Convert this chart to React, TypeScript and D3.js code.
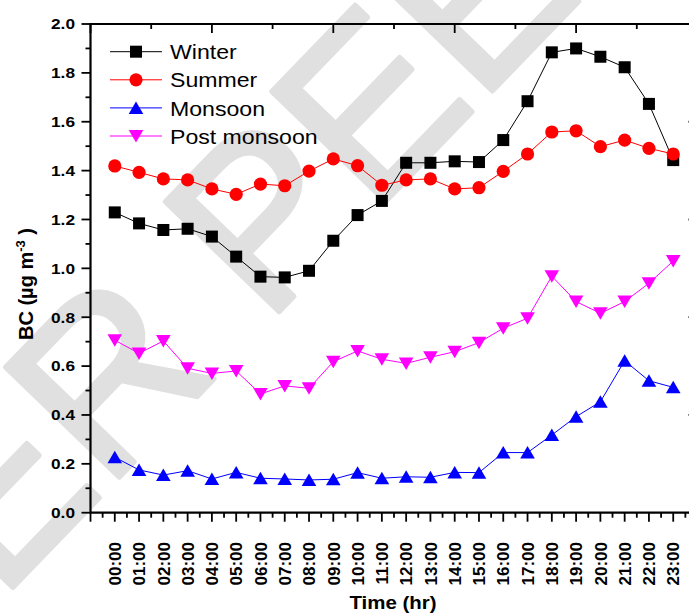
import React from "react";
import * as d3 from "d3";

const timeLabels = [
  "00:00", "01:00", "02:00", "03:00", "04:00", "05:00", "06:00", "07:00",
  "08:00", "09:00", "10:00", "11:00", "12:00", "13:00", "14:00", "15:00",
  "16:00", "17:00", "18:00", "19:00", "20:00", "21:00", "22:00", "23:00",
];
const hourValues = [
  0, 1, 2, 3, 4, 5, 6, 7, 8, 9, 10, 11, 12, 13, 14, 15, 16, 17, 18, 19, 20, 21, 22, 23,
];

const winter = [
  1.229, 1.184, 1.157, 1.162, 1.13, 1.048, 0.966, 0.963, 0.99, 1.113, 1.218, 1.276,
  1.432, 1.432, 1.438, 1.435, 1.525, 1.684, 1.884, 1.9, 1.866, 1.823, 1.673, 1.443,
];
const summer = [
  1.419, 1.393, 1.366, 1.362, 1.325, 1.303, 1.345, 1.338, 1.398, 1.448, 1.42, 1.34,
  1.362, 1.366, 1.325, 1.33, 1.397, 1.468, 1.558, 1.563, 1.498, 1.525, 1.491, 1.468,
];
const monsoon = [
  0.227, 0.175, 0.154, 0.172, 0.138, 0.165, 0.141, 0.138, 0.134, 0.137, 0.164, 0.141,
  0.147, 0.145, 0.165, 0.164, 0.246, 0.246, 0.318, 0.393, 0.454, 0.622, 0.54, 0.513,
];
const postMonsoon = [
  0.706, 0.652, 0.703, 0.591, 0.57, 0.58, 0.486, 0.519, 0.509, 0.618, 0.662, 0.628,
  0.611, 0.636, 0.659, 0.696, 0.755, 0.796, 0.968, 0.864, 0.816, 0.864, 0.939, 1.03,
];

const seriesNames = ["Winter", "Summer", "Monsoon", "Post monsoon"];
const seriesColors = ["#000000", "#FF0000", "#0000FF", "#FF00FF"];
const seriesShapes = ["square", "circle", "up", "down"];
const seriesData = [winter, summer, monsoon, postMonsoon];

const yTickValues = [0, 0.2, 0.4, 0.6, 0.8, 1.0, 1.2, 1.4, 1.6, 1.8, 2.0];
const watermarkText = "DER PEER RE";

const W = 689;
const H = 616;

function Marker({ shape, cx, cy, color }: { shape: string; cx: number; cy: number; color: string }) {
  if (shape === "square") {
    return <rect x={cx - 6} y={cy - 6} width={12} height={12} fill={color} />;
  }
  if (shape === "circle") {
    return <circle cx={cx} cy={cy} r={6.6} fill={color} />;
  }
  if (shape === "up") {
    return <path d={`M${cx},${cy - 6.5}L${cx + 7.3},${cy + 6}L${cx - 7.3},${cy + 6}Z`} fill={color} />;
  }
  return <path d={`M${cx},${cy + 6.5}L${cx + 7.3},${cy - 6}L${cx - 7.3},${cy - 6}Z`} fill={color} />;
}

export default function App() {
  const x = d3.scaleLinear().domain([-1, 24]).range([90.5, 697.5]);
  const y = d3.scaleLinear().domain([0, 2]).range([512.7, 24]);
  const x0 = x(-1);
  const x1 = x(24);
  const y0 = y(0);
  const y1 = y(2);

  const bottomMajor = d3.range(-1, 24.001, 1);
  const bottomMinor = d3.range(-0.5, 24, 1);
  const topMajor = d3.range(-1, 24.001, 5);
  const topMinor = d3.range(1.5, 24, 5);
  const leftMajor = d3.range(0, 2.001, 0.2);
  const leftMinor = d3.range(0.1, 2, 0.2);
  const rightMajor = d3.range(0, 2.001, 0.4);
  const rightMinor = d3.range(0.2, 2, 0.4);

  const line = d3
    .line<number>()
    .x((_, i) => x(hourValues[i]))
    .y((d) => y(d));

  const legendY0 = 51.7;
  const legendStep = 28.1;

  return (
    <svg
      width={W}
      height={H}
      style={{ position: "absolute", left: 0, top: 0, background: "#fff" }}
      fontFamily="'Liberation Sans', Arial, sans-serif"
    >
      <rect x={0} y={0} width={W} height={H} fill="#fff" />
      {/* watermark */}
      <text
        transform="translate(262,215) rotate(-46)"
        x={-626}
        textAnchor="start"
        fontSize={230}
        fill="#e0e0e0"
        stroke="#e0e0e0"
        strokeWidth={5}
        strokeLinejoin="round"
        dominantBaseline="central"
      >
        {watermarkText}
      </text>

      {/* series */}
      {seriesData.map((data, si) => (
        <g key={seriesNames[si]}>
          <path d={line(data) || ""} fill="none" stroke={seriesColors[si]} strokeWidth={1} />
          {data.map((v, i) => (
            <Marker key={i} shape={seriesShapes[si]} cx={x(hourValues[i])} cy={y(v)} color={seriesColors[si]} />
          ))}
        </g>
      ))}

      {/* axes frame */}
      <g stroke="#000" fill="none">
        <line x1={x0} y1={y0} x2={x1} y2={y0} strokeWidth={2.2} />
        <line x1={x0} y1={y1} x2={x1} y2={y1} strokeWidth={2.2} />
        <line x1={x0} y1={y0 + 1} x2={x0} y2={y1 - 1} strokeWidth={2.2} />
        <line x1={x1} y1={y0} x2={x1} y2={y1} strokeWidth={2.2} />
        {bottomMajor.map((t) => (
          <line key={"bM" + t} x1={x(t)} x2={x(t)} y1={y0} y2={y0 + 9} strokeWidth={1.8} />
        ))}
        {bottomMinor.map((t) => (
          <line key={"bm" + t} x1={x(t)} x2={x(t)} y1={y0} y2={y0 + 5} strokeWidth={1.8} />
        ))}
        {topMajor.map((t) => (
          <line key={"tM" + t} x1={x(t)} x2={x(t)} y1={y1} y2={y1 + 9} strokeWidth={1.8} />
        ))}
        {topMinor.map((t) => (
          <line key={"tm" + t} x1={x(t)} x2={x(t)} y1={y1} y2={y1 + 5} strokeWidth={1.8} />
        ))}
        {leftMajor.map((t) => (
          <line key={"lM" + t} x1={x0 - 9} x2={x0} y1={y(t)} y2={y(t)} strokeWidth={1.8} />
        ))}
        {leftMinor.map((t) => (
          <line key={"lm" + t} x1={x0 - 5} x2={x0} y1={y(t)} y2={y(t)} strokeWidth={1.8} />
        ))}
        {rightMajor.map((t) => (
          <line key={"rM" + t} x1={x1 - 9} x2={x1} y1={y(t)} y2={y(t)} strokeWidth={1.8} />
        ))}
        {rightMinor.map((t) => (
          <line key={"rm" + t} x1={x1 - 5} x2={x1} y1={y(t)} y2={y(t)} strokeWidth={1.8} />
        ))}
      </g>

      {/* y tick labels */}
      {yTickValues.map((v) => (
        <text
          key={"yl" + v}
          transform={`translate(75,${y(v) + 5.4}) scale(1.15,1)`}
          textAnchor="end"
          fontSize={15}
          fontWeight="bold"
          fill="#000"
        >
          {v.toFixed(1)}
        </text>
      ))}

      {/* x tick labels */}
      {timeLabels.map((lab, i) => (
        <text
          key={lab}
          transform={`translate(${x(hourValues[i]) + 6.2},542) rotate(-90)`}
          textAnchor="end"
          fontSize={17}
          fontWeight="bold"
          fill="#000"
        >
          {lab}
        </text>
      ))}

      {/* axis titles */}
      <text
        transform="translate(393,609) scale(1.17,1)"
        textAnchor="middle"
        fontSize={17.5}
        fontWeight="bold"
        fill="#000"
      >
        Time (hr)
      </text>
      <text
        transform="translate(33,284) rotate(-90)"
        textAnchor="middle"
        fontSize={20}
        fontWeight="bold"
        fill="#000"
      >
        BC (µg m
        <tspan fontSize={13} dy={-8}>-3</tspan>
        <tspan dy={8}> )</tspan>
      </text>

      {/* legend */}
      {seriesNames.map((name, si) => {
        const ly = legendY0 + si * legendStep;
        return (
          <g key={"lg" + name}>
            <line x1={110} x2={162} y1={ly} y2={ly} stroke={seriesColors[si]} strokeWidth={1} />
            <Marker shape={seriesShapes[si]} cx={136} cy={ly} color={seriesColors[si]} />
            <text
              transform={`translate(170,${ly + 7.6}) scale(1.1,1)`}
              fontSize={21}
              fill="#000"
            >
              {name}
            </text>
          </g>
        );
      })}
    </svg>
  );
}
